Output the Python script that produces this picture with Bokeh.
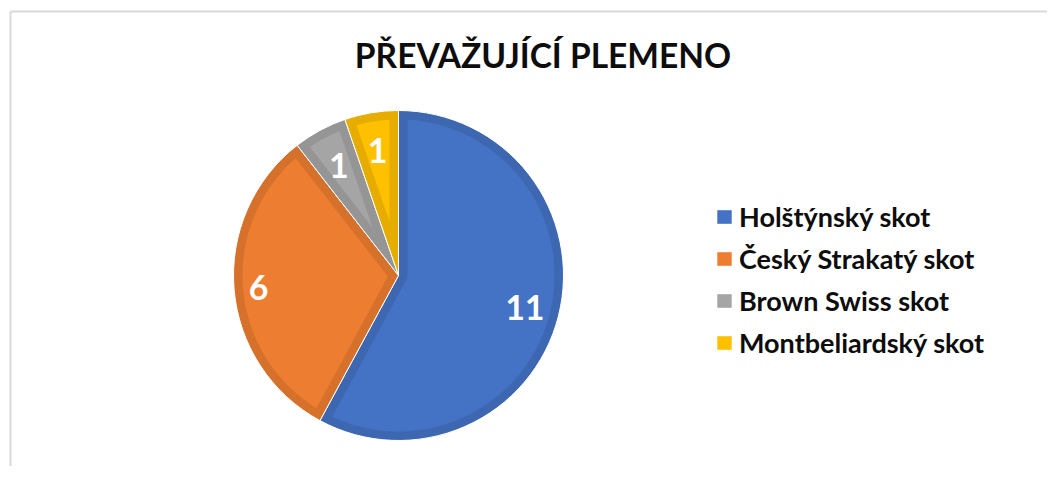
import numpy as np
from bokeh.plotting import figure
from bokeh.models import Range1d, Legend, LegendItem, ColumnDataSource, Label
from bokeh.core.properties import value
from bokeh.embed import file_html
from bokeh.resources import INLINE

# ---- data ----
title_text = "PŘEVAŽUJÍCÍ PLEMENO"
categories = ["Holštýnský skot", "Český Strakatý skot", "Brown Swiss skot", "Montbeliardský skot"]
counts = [11, 6, 1, 1]

# ---- style ----
fill_colors = ["#4472C4", "#ED7D31", "#A5A5A5", "#FFC000"]
edge_colors = ["#3E67B1", "#D6712C", "#959595", "#E6AD00"]
label_radius = [0.79, 0.85, 0.76, 0.77]
FONT = "Lato"

W, H = 1047, 466
cx, cy, R, D = 398, 191, 165, 9

vals = np.array(counts, dtype=float)
frac = np.cumsum(np.r_[0, vals]) / vals.sum()
a_start = np.pi / 2 - 2 * np.pi * frac[1:]
a_end = np.pi / 2 - 2 * np.pi * frac[:-1]
mid = (a_start + a_end) / 2

# inner (lighter) polygons inset by D from every edge
Ri = R - D
delta = np.arcsin(D / Ri)
xs, ys = [], []
for a1, a2, b in zip(a_start, a_end, mid):
    theta = a2 - a1
    s = D / np.sin(theta / 2)
    px, py = cx + s * np.cos(b), cy + s * np.sin(b)
    arc = np.linspace(a1 + delta, a2 - delta, 120)
    xs.append([px] + list(cx + Ri * np.cos(arc)))
    ys.append([py] + list(cy + Ri * np.sin(arc)))

p = figure(width=W, height=H, x_range=Range1d(0, W), y_range=Range1d(0, H),
           output_backend="svg", toolbar_location=None, min_border=0,
           x_axis_type=None, y_axis_type=None)
p.grid.visible = False
p.outline_line_color = None
p.background_fill_color = "white"
p.border_fill_color = "white"

# chart frame (top and left edges visible)
p.segment(x0=[10, 10], y0=[455, 455], x1=[W + 20, 10], y1=[455, -20],
          line_color="#D9D9D9", line_width=2)

wsrc = ColumnDataSource(dict(start=a_start, end=a_end, color=edge_colors))
p.wedge(x=cx, y=cy, radius=R, start_angle="start", end_angle="end",
        fill_color="color", line_color="white", line_width=1, source=wsrc)

psrc = ColumnDataSource(dict(xs=xs, ys=ys, color=fill_colors))
inner = p.patches(xs="xs", ys="ys", fill_color="color", line_alpha=0, source=psrc)

lr = np.array(label_radius) * R
tsrc = ColumnDataSource(dict(x=cx + lr * np.cos(mid), y=cy + lr * np.sin(mid),
                             t=[str(c) for c in counts]))
p.text(x="x", y="y", text="t", source=tsrc, text_align="center", text_baseline="middle",
       text_color="white", text_font=value(FONT), text_font_style="bold",
       text_font_size="34px")

p.add_layout(Label(x=542.5, y=412, text=title_text, text_align="center",
                   text_baseline="alphabetic", text_font=FONT, text_font_style="bold",
                   text_font_size="33.5px", text_color="#0D0D0D"))

items = [LegendItem(label=c, renderers=[inner], index=i) for i, c in enumerate(categories)]
legend = Legend(items=items, location=(715, 107), orientation="vertical",
                glyph_width=18, glyph_height=17, label_standoff=6, spacing=9,
                padding=0, margin=0, border_line_alpha=0, background_fill_alpha=0,
                label_text_font=FONT, label_text_font_size="27px",
                label_text_font_style="bold", label_text_color="#0D0D0D",
                label_height=30)
p.add_layout(legend)

open("out.html", "w").write(file_html(p, INLINE))
